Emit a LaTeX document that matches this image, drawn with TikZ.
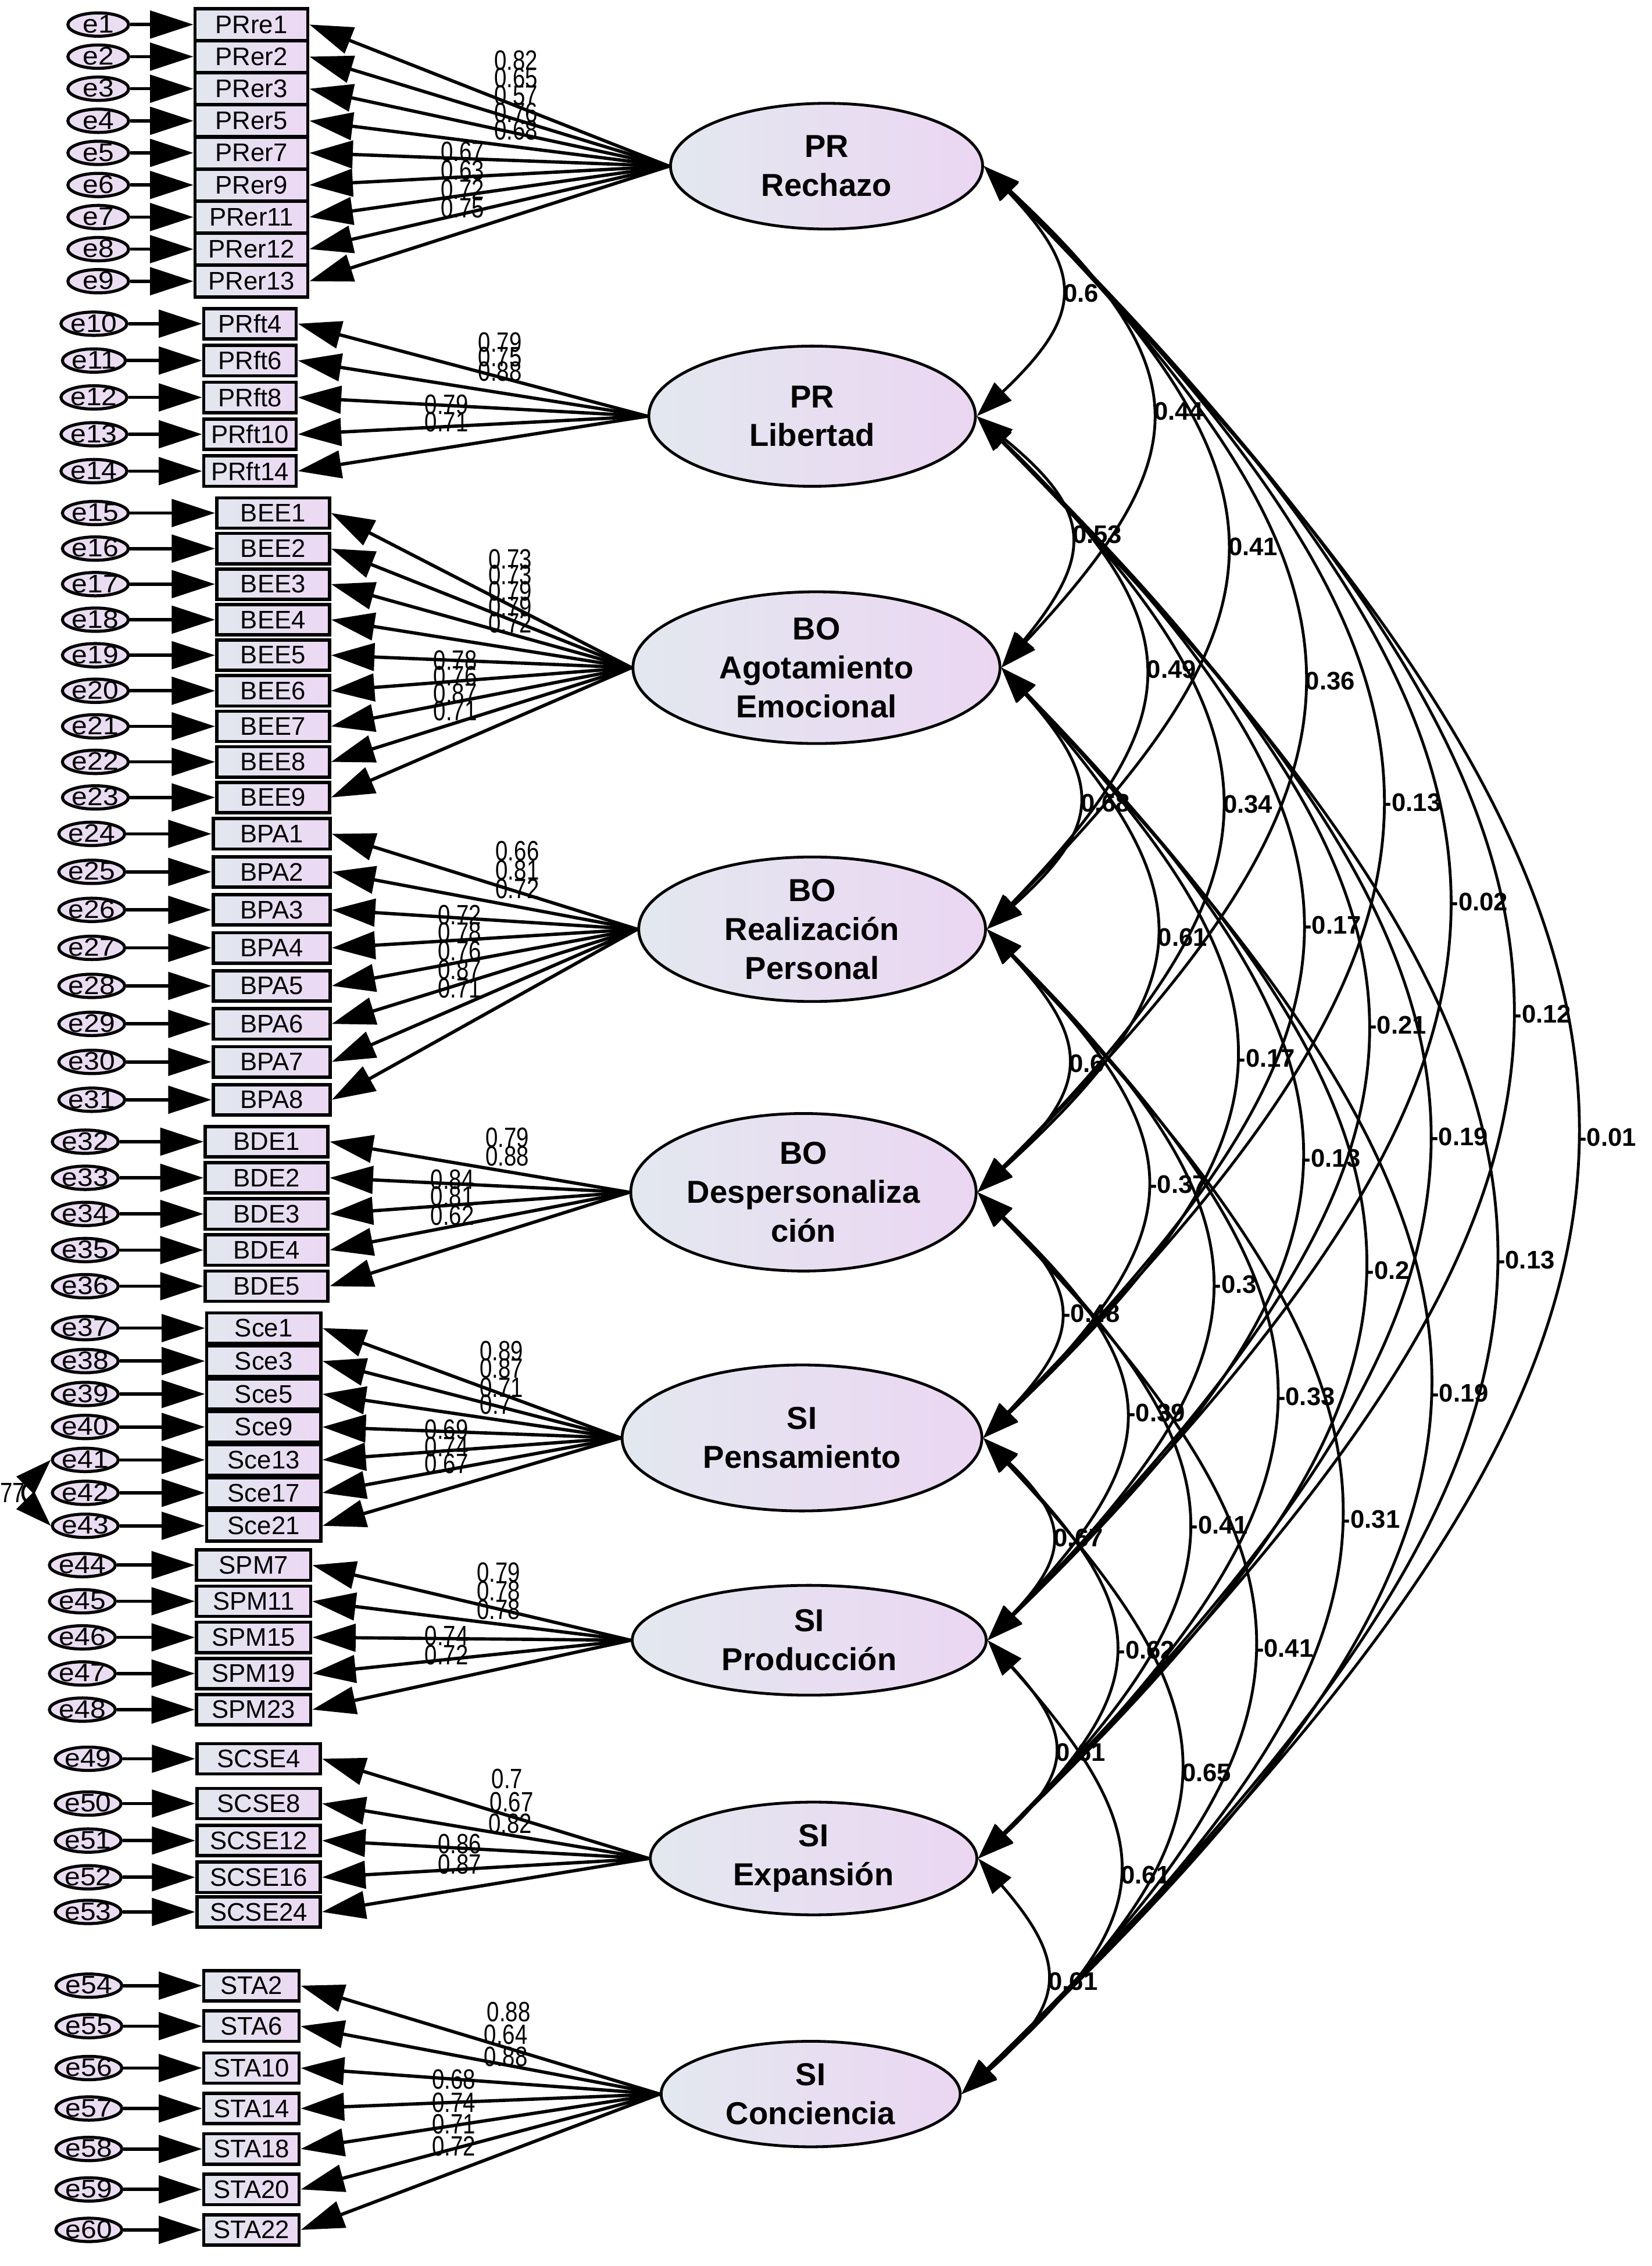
\documentclass[tikz,border=0pt]{standalone}
\usepackage{fontspec}
\setmainfont{Liberation Sans}
\newfontfamily\narrowfont[FakeStretch=0.8]{Liberation Sans}
\newfontfamily\errfont[FakeStretch=1.1]{Liberation Sans}
\usetikzlibrary{arrows.meta,shapes.geometric}
\definecolor{BoxL}{HTML}{E2E7EF}
\definecolor{BoxR}{HTML}{ECD8F3}
\definecolor{LatL}{HTML}{E3E8EF}
\definecolor{LatR}{HTML}{EBD6F2}
\definecolor{ErrF}{HTML}{EADDF2}

\begin{document}
\begin{tikzpicture}[x=0.2mm,y=-0.2mm,
  lat/.style={ellipse,draw,line width=1.1pt,left color=LatL,right color=LatR,inner sep=0pt,align=center,font=\bfseries\fontsize{12.5}{15.3}\selectfont},
  ind/.style={draw,line width=1.3pt,left color=BoxL,right color=BoxR,inner sep=0pt,minimum height=4.2mm,font=\fontsize{10}{12}\selectfont},
  err/.style={ellipse,draw,line width=1.2pt,fill=ErrF,inner sep=0pt,minimum width=8.4mm,minimum height=3.2mm,text height=6.5pt,text depth=0pt,font=\errfont\fontsize{10}{12}\selectfont},
  arr/.style={-{Triangle[length=6mm,width=3.8mm]},line width=1.3pt},
  cov/.style={{Triangle[length=5mm,width=3.4mm]}-{Triangle[length=5mm,width=3.4mm]},line width=1.1pt},
  wt/.style={inner sep=0pt,font=\narrowfont\fontsize{11}{12}\selectfont},
  cvl/.style={right,inner sep=1.5pt,font=\bfseries\fontsize{10}{12}\selectfont}
]
\useasboundingbox (0,0) rectangle (1143,1568);

% factores latentes
\node[lat,minimum width=43.2mm,minimum height=17.4mm] (rech) at (572,115) {PR\\Rechazo};
\node[lat,minimum width=45.2mm,minimum height=19.4mm] (lib) at (562,288) {PR\\Libertad};
\node[lat,minimum width=50.8mm,minimum height=21mm] (agot) at (565,462) {BO\\Agotamiento\\Emocional};
\node[lat,minimum width=48mm,minimum height=20mm] (real) at (562,643) {BO\\Realización\\Personal};
\node[lat,minimum width=47.8mm,minimum height=21.8mm] (desp) at (556,825) {BO\\Despersonaliza\\ción};
\node[lat,minimum width=49.8mm,minimum height=20.2mm] (pens) at (555,995) {SI\\Pensamiento};
\node[lat,minimum width=49mm,minimum height=15.2mm] (prod) at (560,1135) {SI\\Producción};
\node[lat,minimum width=45.2mm,minimum height=15.6mm] (exp) at (563,1286) {SI\\Expansión};
\node[lat,minimum width=41.4mm,minimum height=14.6mm] (conc) at (561,1449) {SI\\Conciencia};

% PR Rechazo
\foreach \yy/\nm/\er/\val/\lx/\ly in {17/PRre1/e1/0.82/357/42, 39.2/PRer2/e2/0.65/357/54,
  61.4/PRer3/e3/0.57/357/66, 83.6/PRer5/e4/0.76/357/78, 105.8/PRer7/e5/0.68/357/90,
  128/PRer9/e6/0.67/320/105, 150.2/PRer11/e7/0.63/320/118, 172.4/PRer12/e8/0.72/320/131,
  194.6/PRer13/e9/0.75/320/144}{
  \node[ind,minimum width=15.6mm,minimum height=4.4mm] (\nm) at (174,\yy) {\nm};
  \node[err] (\er) at (68,\yy) {\er};
  \draw[arr] (\er) -- (\nm);
  \draw[arr] (rech.west) -- (\nm.east);
  \node[wt] (w\nm) at (\lx,\ly) {\val};
}

% PR Libertad
\foreach \yy/\nm/\er/\val/\lx/\ly in {224/PRft4/e10/0.79/346/237, 249.5/PRft6/e11/0.75/346/247,
  275/PRft8/e12/0.88/346/257, 300.5/PRft10/e13/0.79/309/280, 326/PRft14/e14/0.71/309/292}{
  \node[ind,minimum width=12.8mm] (\nm) at (173,\yy) {\nm};
  \node[err] (\er) at (65,\yy) {\er};
  \draw[arr] (\er) -- (\nm);
  \draw[arr] (lib.west) -- (\nm.east);
  \node[wt] (w\nm) at (\lx,\ly) {\val};
}

% BO Agotamiento Emocional
\foreach \yy/\nm/\er/\val/\lx/\ly in {355/BEE1/e15/0.73/353/387, 379.6/BEE2/e16/0.73/353/398,
  404.2/BEE3/e17/0.79/353/409, 428.8/BEE4/e18/0.79/353/420, 453.4/BEE5/e19/0.72/353/431,
  478/BEE6/e20/0.78/315/457, 502.6/BEE7/e21/0.76/315/468, 527.2/BEE8/e22/0.87/315/480,
  551.8/BEE9/e23/0.71/315/492}{
  \node[ind,minimum width=15.6mm] (\nm) at (189,\yy) {\nm};
  \node[err] (\er) at (66,\yy) {\er};
  \draw[arr] (\er) -- (\nm);
  \draw[arr] (agot.west) -- (\nm.east);
  \node[wt] (w\nm) at (\lx,\ly) {\val};
}

% BO Realizacion Personal
\foreach \yy/\nm/\er/\val/\lx/\ly in {577/BPA1/e24/0.66/358/589, 603.3/BPA2/e25/0.81/358/602,
  629.6/BPA3/e26/0.72/358/615, 655.9/BPA4/e27/0.72/318/633, 682.2/BPA5/e28/0.78/318/645,
  708.5/BPA6/e29/0.76/318/658, 734.8/BPA7/e30/0.87/318/671, 761/BPA8/e31/0.71/318/684}{
  \node[ind,minimum width=16.2mm] (\nm) at (188,\yy) {\nm};
  \node[err] (\er) at (63.5,\yy) {\er};
  \draw[arr] (\er) -- (\nm);
  \draw[arr] (real.west) -- (\nm.east);
  \node[wt] (w\nm) at (\lx,\ly) {\val};
}

% BO Despersonalizacion
\foreach \yy/\nm/\er/\val/\lx/\ly in {790/BDE1/e32/0.79/351/787, 815/BDE2/e33/0.88/351/800,
  840/BDE3/e34/0.84/313/816, 865/BDE4/e35/0.81/313/828, 890/BDE5/e36/0.62/313/841}{
  \node[ind,minimum width=17mm] (\nm) at (184.5,\yy) {\nm};
  \node[err] (\er) at (59,\yy) {\er};
  \draw[arr] (\er) -- (\nm);
  \draw[arr] (desp.west) -- (\nm.east);
  \node[wt] (w\nm) at (\lx,\ly) {\val};
}

% SI Pensamiento
\foreach \yy/\nm/\er/\val/\lx/\ly in {919/Sce1/e37/0.89/347/935, 941.8/Sce3/e38/0.87/347/947,
  964.6/Sce5/e39/0.71/347/960, 987.4/Sce9/e40/0.7/343/972, 1010.2/Sce13/e41/0.69/309/989,
  1033/Sce17/e42/0.74/309/1001, 1055.8/Sce21/e43/0.67/309/1013}{
  \node[ind,minimum width=15.8mm] (\nm) at (182.5,\yy) {\nm};
  \node[err] (\er) at (59,\yy) {\er};
  \draw[arr] (\er) -- (\nm);
  \draw[arr] (pens.west) -- (\nm.east);
  \node[wt] (w\nm) at (\lx,\ly) {\val};
}
\draw[cov] (e41.west) to[bend right=45,looseness=1.6] node[midway,left,wt,inner sep=1pt] (c4143) {77} (e43.west);

% SI Produccion
\foreach \yy/\nm/\er/\val/\lx/\ly in {1083/SPM7/e44/0.79/345/1088, 1108/SPM11/e45/0.78/345/1101,
  1133/SPM15/e46/0.78/345/1114, 1158/SPM19/e47/0.74/309/1132, 1183/SPM23/e48/0.72/309/1145}{
  \node[ind,minimum width=15.8mm] (\nm) at (175.5,\yy) {\nm};
  \node[err] (\er) at (57,\yy) {\er};
  \draw[arr] (\er) -- (\nm);
  \draw[arr] (prod.west) -- (\nm.east);
  \node[wt] (w\nm) at (\lx,\ly) {\val};
}

% SI Expansion
\foreach \yy/\nm/\er/\val/\lx/\ly in {1217/SCSE4/e49/0.7/351/1231, 1248/SCSE8/e50/0.67/354/1247,
  1273.6/SCSE12/e51/0.82/353/1262, 1299/SCSE16/e52/0.86/318/1276, 1323/SCSE24/e53/0.87/318/1290}{
  \node[ind,minimum width=17.1mm] (\nm) at (179,\yy) {\nm};
  \node[err] (\er) at (61,\yy) {\er};
  \draw[arr] (\er) -- (\nm);
  \draw[arr] (exp.west) -- (\nm.east);
  \node[wt] (w\nm) at (\lx,\ly) {\val};
}

% SI Conciencia
\foreach \yy/\nm/\er/\val/\lx/\ly in {1374/STA2/e54/0.88/352/1392, 1402/STA6/e55/0.64/350/1408,
  1431/STA10/e56/0.88/350/1423, 1459/STA14/e57/0.68/314/1439, 1487/STA18/e58/0.74/314/1455,
  1515/STA20/e59/0.71/314/1470, 1543/STA22/e60/0.72/314/1485}{
  \node[ind,minimum width=13.2mm] (\nm) at (174,\yy) {\nm};
  \node[err] (\er) at (61.5,\yy) {\er};
  \draw[arr] (\er) -- (\nm);
  \draw[arr] (conc.west) -- (\nm.east);
  \node[wt] (w\nm) at (\lx,\ly) {\val};
}

% covarianzas entre factores
\foreach \ua/\ub/\cv in {rech/lib/0.6, rech/agot/0.44, rech/real/0.41, rech/desp/0.36,
  rech/pens/-0.13, rech/prod/-0.02, rech/exp/-0.12, rech/conc/-0.01,
  lib/agot/0.53, lib/real/0.49, lib/desp/0.34, lib/pens/-0.17, lib/prod/-0.21,
  lib/exp/-0.19, lib/conc/-0.13,
  agot/real/0.68, agot/desp/0.61, agot/pens/-0.17, agot/prod/-0.13, agot/exp/-0.2, agot/conc/-0.19,
  real/desp/0.6, real/pens/-0.37, real/prod/-0.3, real/exp/-0.33, real/conc/-0.31,
  desp/pens/-0.48, desp/prod/-0.39, desp/exp/-0.41, desp/conc/-0.41,
  pens/prod/0.67, pens/exp/-0.62, pens/conc/0.65,
  prod/exp/0.61, prod/conc/0.61,
  exp/conc/0.61}{
  \draw[cov] (\ua.east) to[bend left=45,looseness=1.5] node[midway,cvl] (c\ua\ub) {\cv} (\ub.east);
}
\end{tikzpicture}
\end{document}
